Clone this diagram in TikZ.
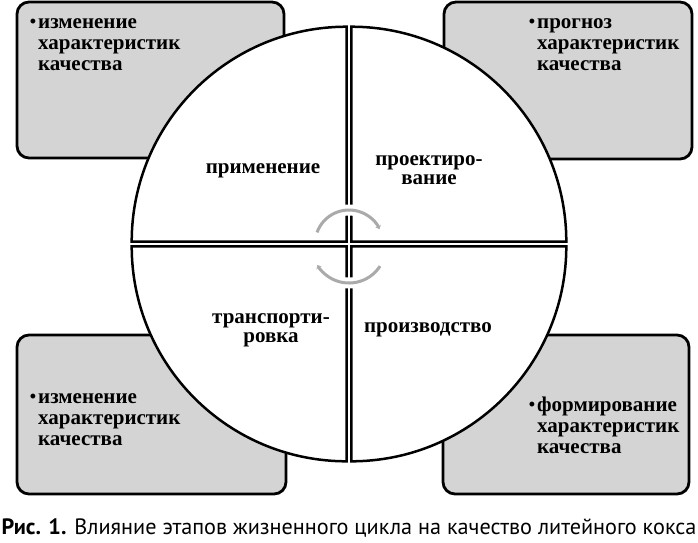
\documentclass[tikz,border=0pt]{standalone}
\usepackage{fontspec}
\setmainfont{Liberation Serif}
\newfontfamily\capfont{PT Sans}
\usetikzlibrary{arrows.meta}
\definecolor{boxgray}{RGB}{212,212,212}
\definecolor{cyclegray}{RGB}{170,170,170}
\newcommand{\pt}{\rule{0pt}{15pt}\llap{\raisebox{1pt}{\fontsize{18}{18}\selectfont\textbullet}\kern2pt}}

\begin{document}
\begin{tikzpicture}[x=1pt, y=-1pt,
        % серые блоки по углам
        cbox/.style={
            draw,
            line width=2.8pt,
            fill=boxgray,
            rounded corners=12pt
        },
        % четверти круга
        quarter/.style={draw, line width=2.5pt, fill=white},
        % подписи этапов
        stage/.style={font=\fontsize{21}{19}\selectfont\bfseries, align=center, inner sep=0pt},
        % тексты в блоках
        remark/.style={
            font=\fontsize{21}{21}\selectfont\bfseries,
            align=left,
            anchor=north west,
            inner sep=0pt
        },
        cyc/.style={draw=cyclegray, line width=3pt, -{Stealth[length=3.5pt, width=6pt]}},
        halo/.style={draw=white, line width=11pt},
    ]
    \useasboundingbox (0,0) rectangle (698,542);

    \draw[cbox] (17,2) rectangle (284,158);
    \draw[cbox] (444,2) rectangle (692,159);
    \draw[cbox] (17,335) rectangle (286,494);
    \draw[cbox] (443,335) rectangle (689,494);

    % круг из четырёх секторов
    \foreach \sx/\sy/\a in {-1/-1/180, 1/-1/270, 1/1/0, -1/1/90}
        \draw[quarter] ({349+\sx*2.3},{244+\sy*2.3}) -- ++(\a:215)
            arc[start angle=\a, end angle=\a+90, radius=215] -- cycle;

    % круговые стрелки в центре
    \draw[halo] (349,244) ++(200:34) arc[start angle=200, end angle=334, radius=34];
    \draw[halo] (349,246) ++(33:37) arc[start angle=33, end angle=149, radius=37];
    \draw[cyc] (349,244) ++(200:34) arc[start angle=200, end angle=334, radius=34];
    \draw[cyc] (349,246) ++(33:37) arc[start angle=33, end angle=149, radius=37];

    \node[stage, anchor=base] (prim) at (263,173) {применение};
    \node[stage] (proekt) at (429,170) {проектиро-\\вание};
    \node[stage] (transp) at (271,330) {транспорти-\\ровка};
    \node[stage, anchor=base] (proizv) at (428,332) {производство};

    \node[remark] (izm1) at (38,13) {\pt изменение\\характеристик\\качества};
    \node[remark] (progn) at (537,13) {\pt прогноз\\характеристик\\качества};
    \node[remark] (izm2) at (38,388) {\pt изменение\\характеристик\\качества};
    \node[remark] (form) at (537,396) {\pt формирование\\характеристик\\качества};

    \node[font=\capfont\fontsize{22.2}{22.2}\selectfont, anchor=base, inner sep=0pt] (cap) at (349,534)
        {\textbf{Рис. 1.} Влияние этапов жизненного цикла на качество литейного кокса};
\end{tikzpicture}
\end{document}
